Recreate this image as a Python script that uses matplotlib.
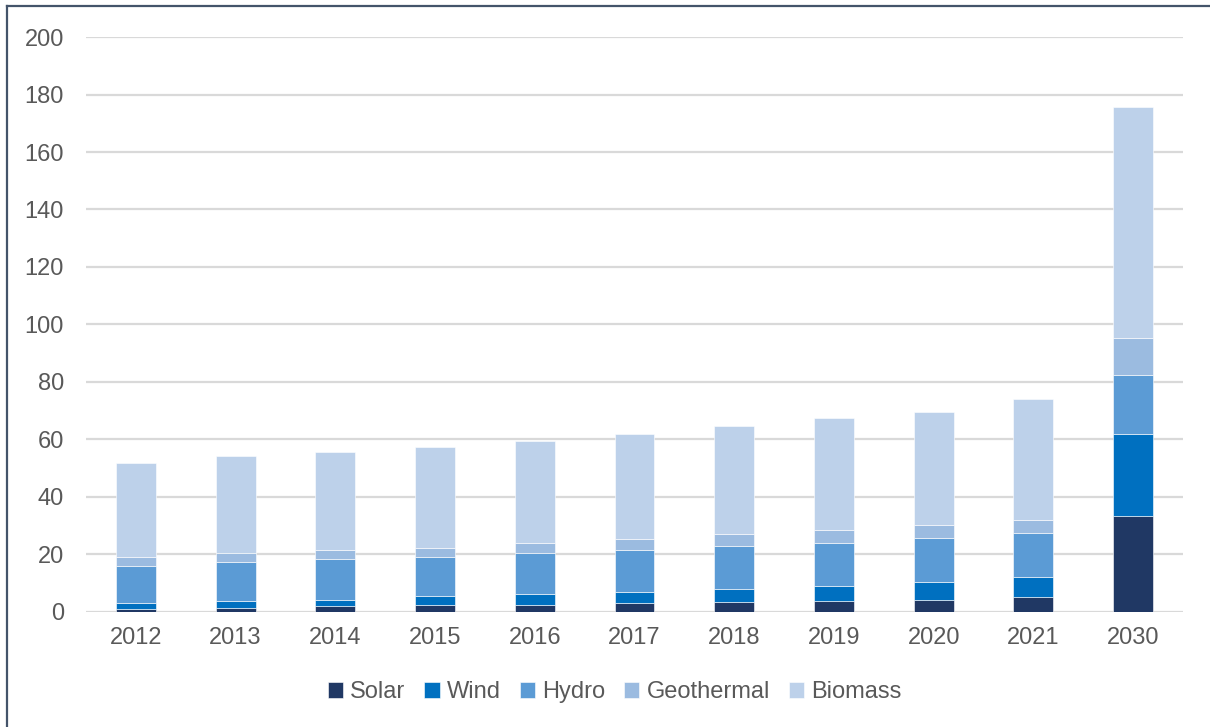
import matplotlib
matplotlib.use("Agg")
import matplotlib.pyplot as plt
from matplotlib.lines import Line2D
import numpy as np

years = ['2012', '2013', '2014', '2015', '2016', '2017', '2018', '2019', '2020', '2021', '2030']
solar = [1.2, 1.5, 2.0, 2.3, 2.6, 3.0, 3.5, 3.9, 4.3, 5.3, 33.3]
wind = [1.8, 2.4, 2.3, 3.2, 3.5, 4.1, 4.6, 5.3, 6.0, 6.7, 28.6]
hydro = [13.0, 13.6, 14.3, 13.6, 14.3, 14.5, 15.0, 14.9, 15.6, 15.6, 20.4]
geothermal = [3.2, 2.9, 3.0, 3.3, 3.7, 3.8, 4.0, 4.4, 4.4, 4.5, 13.0]
biomass = [32.5, 34.0, 34.1, 34.9, 35.4, 36.5, 37.6, 39.0, 39.2, 42.0, 80.5]

names = ['Solar', 'Wind', 'Hydro', 'Geothermal', 'Biomass']
colors = ['#203864', '#0070C0', '#5B9BD5', '#9BBBE0', '#BDD1EA']

plt.rcParams['font.family'] = ['Liberation Sans', 'DejaVu Sans']

fig = plt.figure(figsize=(12.1, 7.27), dpi=100)
ax = fig.add_axes([0.0711, 0.1582, 0.9066, 0.7909])

x = np.arange(len(years))
bottom = np.zeros(len(years))
for vals, name, c in zip([solar, wind, hydro, geothermal, biomass], names, colors):
    ax.bar(x, vals, 0.4, bottom=bottom, color=c, label=name,
           edgecolor='white', linewidth=0.4, zorder=3)
    bottom += np.array(vals)

ax.set_xlim(-0.5, len(years) - 0.5)
ax.set_ylim(0, 200)
ax.set_yticks(range(0, 201, 20))
ax.set_xticks(x)
ax.set_xticklabels(years)
ax.yaxis.grid(True, color='#D9D9D9', linewidth=1.6, zorder=0)
ax.tick_params(axis='both', length=0, labelsize=17, labelcolor='#595959')
ax.tick_params(axis='y', pad=16)
ax.tick_params(axis='x', pad=11)
for s in ax.spines.values():
    s.set_visible(False)

fig.legend(loc='center', bbox_to_anchor=(0.508, 0.048), ncol=5, frameon=False,
           fontsize=17, labelcolor='#595959', handlelength=0.65, handleheight=0.65,
           handletextpad=0.3, columnspacing=0.8)

# outer frame (left and top edges visible)
fig.add_artist(Line2D([7 / 1210, 7 / 1210], [0, 1 - 6 / 727], color='#44546A', linewidth=1.6))
fig.add_artist(Line2D([7 / 1210, 1], [1 - 6 / 727, 1 - 6 / 727], color='#44546A', linewidth=1.6))

fig.savefig('out.png', dpi=100)
